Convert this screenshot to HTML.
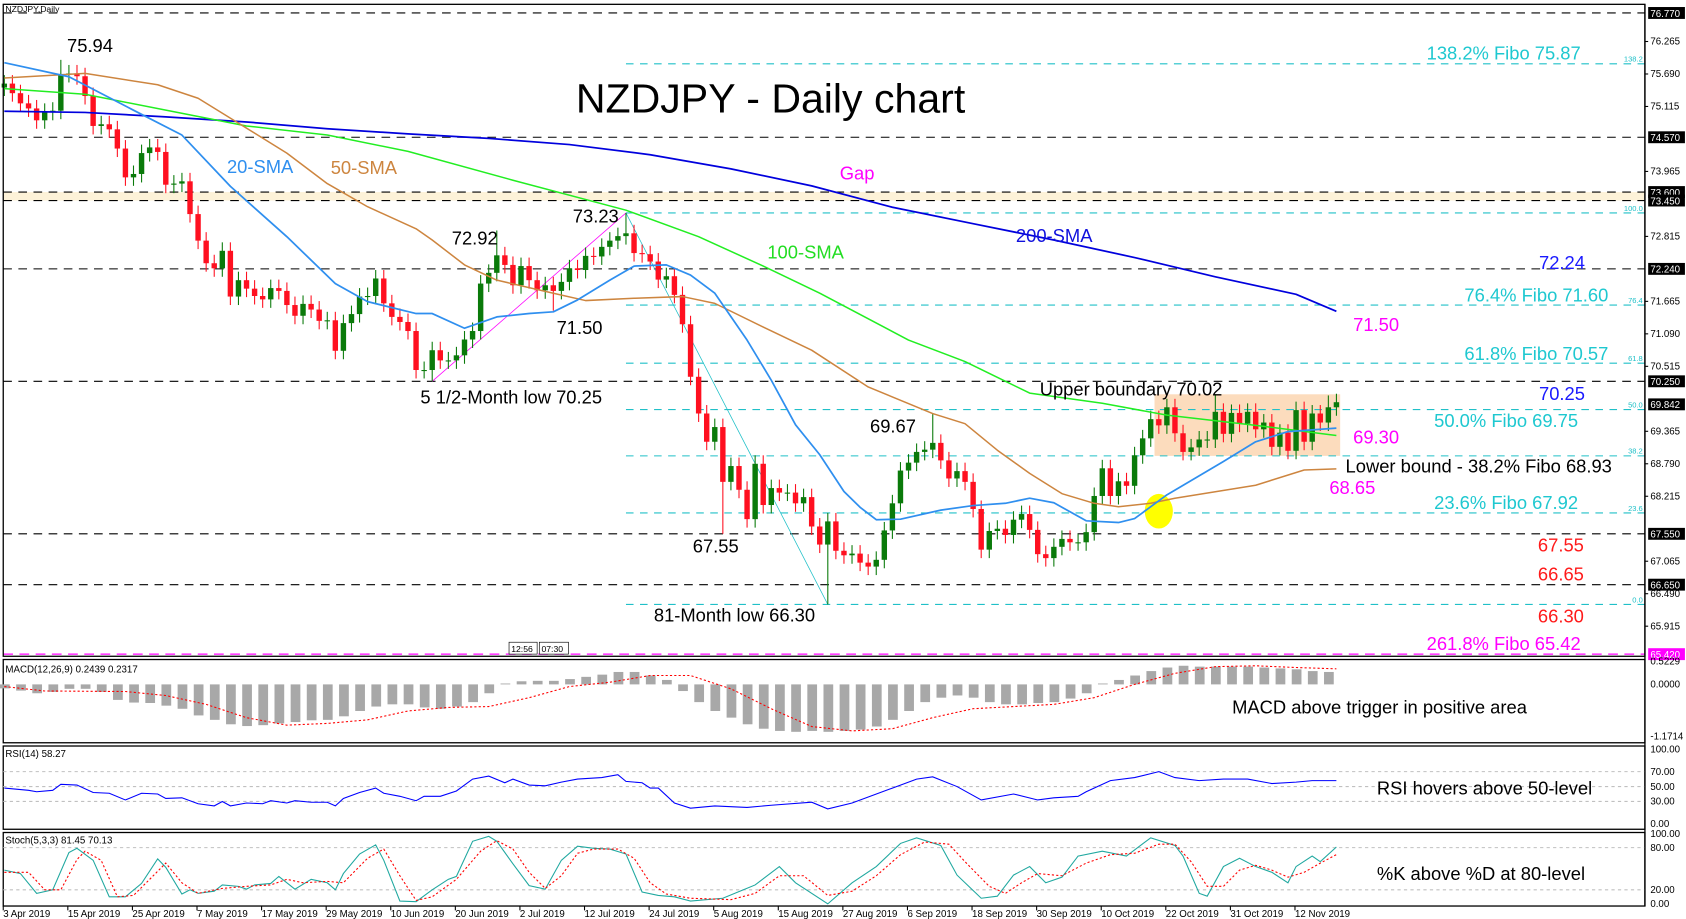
<!DOCTYPE html>
<html><head><meta charset="utf-8"><title>NZDJPY Daily chart</title>
<style>
html,body{margin:0;padding:0;background:#fff;overflow:hidden}
svg{display:block;font-family:"Liberation Sans",sans-serif}
.ax{font-size:9px}
.lb{font-size:17px}
</style></head>
<body>
<svg id="chart" width="1686" height="919" viewBox="0 0 1560 850" preserveAspectRatio="none" xmlns="http://www.w3.org/2000/svg">
<rect x="0" y="0" width="1560" height="850" fill="#fff"/>
<g id="main"></g>
<g id="ind"></g>
<g id="txt">
<text x="5" y="11" font-size="8">NZDJPY,Daily</text>
<text x="713" y="104" font-size="38" text-anchor="middle">NZDJPY - Daily chart</text>
<text class="lb" x="62" y="48">75.94</text>
<text class="lb" x="210" y="160" fill="#2f8fef">20-SMA</text>
<text class="lb" x="306" y="161" fill="#cd853f">50-SMA</text>
<text class="lb" x="777" y="166" fill="#ff00ff">Gap</text>
<text class="lb" x="940" y="224" fill="#1010dd">200-SMA</text>
<text class="lb" x="710" y="239" fill="#22dd22">100-SMA</text>
<text class="lb" x="418" y="226">72.92</text>
<text class="lb" x="530" y="206">73.23</text>
<text class="lb" x="515" y="309">71.50</text>
<text class="lb" x="389" y="373">5 1/2-Month low 70.25</text>
<text class="lb" x="805" y="400">69.67</text>
<text class="lb" x="962" y="366">Upper boundary 70.02</text>
<text class="lb" x="641" y="511">67.55</text>
<text class="lb" x="605" y="575">81-Month low 66.30</text>
<text class="lb" x="1320" y="55" fill="#1ec8d0">138.2% Fibo 75.87</text>
<text class="lb" x="1424" y="249" fill="#1a1aff">72.24</text>
<text class="lb" x="1355" y="279" fill="#1ec8d0">76.4% Fibo 71.60</text>
<text class="lb" x="1252" y="306" fill="#ff00ff">71.50</text>
<text class="lb" x="1355" y="333" fill="#1ec8d0">61.8% Fibo 70.57</text>
<text class="lb" x="1424" y="370" fill="#1a1aff">70.25</text>
<text class="lb" x="1327" y="395" fill="#1ec8d0">50.0% Fibo 69.75</text>
<text class="lb" x="1252" y="410" fill="#ff00ff">69.30</text>
<text class="lb" x="1245" y="437">Lower bound - 38.2% Fibo 68.93</text>
<text class="lb" x="1230" y="457" fill="#ff00ff">68.65</text>
<text class="lb" x="1327" y="471" fill="#1ec8d0">23.6% Fibo 67.92</text>
<text class="lb" x="1423" y="510" fill="#ff1a1a">67.55</text>
<text class="lb" x="1423" y="537" fill="#ff1a1a">66.65</text>
<text class="lb" x="1423" y="576" fill="#ff1a1a">66.30</text>
<text class="lb" x="1320" y="601" fill="#ff00ff">261.8% Fibo 65.42</text>
<text x="5" y="622" font-size="9">MACD(12,26,9) 0.2439 0.2317</text>
<text x="5" y="700" font-size="9">RSI(14) 58.27</text>
<text x="5" y="780" font-size="9">Stoch(5,3,3) 81.45 70.13</text>
<text class="lb" x="1140" y="660">MACD above trigger in positive area</text>
<text class="lb" x="1274" y="735">RSI hovers above 50-level</text>
<text class="lb" x="1274" y="814">%K above %D at 80-level</text>
<rect x="471" y="594" width="26" height="11" fill="#fff" stroke="#000" stroke-width="0.6"/>
<text x="473" y="603" font-size="8">12:56</text>
<rect x="499" y="594" width="27" height="11" fill="#fff" stroke="#000" stroke-width="0.6"/>
<text x="501" y="603" font-size="8">07:30</text>
</g>
</svg>
<script>
// ---- price data (bar index 0..165) ----
const closes=[75.52,75.35,75.17,75.08,74.87,75.02,75.04,75.69,75.70,75.65,
75.30,74.77,74.80,74.71,74.37,73.86,73.92,74.29,74.39,74.31,
73.73,73.75,73.79,73.21,72.74,72.34,72.25,72.56,71.75,72.04,
71.89,71.76,71.70,71.90,71.85,71.60,71.41,71.62,71.52,71.32,
71.33,70.79,71.28,71.44,71.75,71.76,72.07,71.63,71.39,71.30,
71.14,70.45,70.45,70.80,70.62,70.62,70.71,70.99,71.14,71.98,
72.17,72.48,72.31,71.95,72.29,72.04,71.86,71.95,71.85,72.01,
72.25,72.22,72.47,72.46,72.63,72.74,72.82,72.87,72.52,72.50,
72.37,72.05,72.11,71.78,71.26,70.33,69.68,69.18,69.44,68.47,
68.75,68.33,67.81,68.79,68.06,68.36,68.28,68.28,68.09,68.20,
67.68,67.36,67.77,67.25,67.17,67.20,67.04,66.97,67.09,67.61,
68.09,68.67,68.81,69.00,69.04,69.16,68.85,68.53,68.66,68.47,
67.99,67.27,67.60,67.64,67.53,67.80,67.90,67.62,67.19,67.12,
67.32,67.46,67.40,67.40,67.58,68.22,68.71,68.22,68.48,68.40,
68.94,69.24,69.58,69.47,69.79,69.33,69.00,69.08,69.22,69.22,
69.71,69.32,69.69,69.50,69.71,69.40,69.52,69.09,69.34,69.02,
69.74,69.18,69.68,69.52,69.79,69.88];
const firstOpen=75.45;
const highIdx=[7,61,77,115,150,164];
const highVal=[75.94,72.92,73.23,69.67,70.02,70.00];
const lowIdx=[53,68,89,102];
const lowVal=[70.25,71.50,67.55,66.30];
// moving averages sampled at bar indices
const sma20Idx=[0,8,16,22,28,35,41,45,51,53,57,61,65,68,71,75,78,82,85,88,92,95,98,101,104,106,108,111,116,120,124,127,130,134,138,140,144,151,155,159,165];
const sma20=[75.89,75.64,75.05,74.61,73.70,72.81,71.98,71.66,71.45,71.45,71.19,71.39,71.45,71.48,71.69,72.04,72.29,72.31,72.13,71.81,70.98,70.27,69.48,68.95,68.30,68.02,67.80,67.81,67.97,68.05,68.09,68.18,68.10,67.78,67.75,67.82,68.24,68.83,69.18,69.36,69.42];
const sma50Idx=[0,10,19,24,29,35,40,45,51,53,57,61,68,72,78,84,88,94,100,107,115,119,123,127,131,135,138,142,145,155,161,165];
const sma50=[75.62,75.70,75.50,75.26,74.82,74.29,73.75,73.34,72.95,72.75,72.31,72.04,71.81,71.68,71.72,71.75,71.63,71.21,70.80,70.15,69.68,69.50,69.03,68.62,68.26,68.09,68.03,68.09,68.18,68.41,68.68,68.70];
const sma100Idx=[0,10,20,30,40,50,63,77,86,94,101,112,119,127,136,144,155,165];
const sma100=[75.43,75.33,75.05,74.77,74.61,74.32,73.81,73.28,72.81,72.29,71.81,70.98,70.60,70.04,69.86,69.65,69.47,69.29];
const sma200Idx=[0,10,20,30,40,50,60,70,80,90,100,110,120,130,140,150,160,165];
const sma200=[75.03,75.01,74.93,74.84,74.72,74.63,74.55,74.44,74.26,74.01,73.71,73.33,73.04,72.75,72.44,72.10,71.79,71.49];
// horizontal levels
const blackLevels=[76.77,74.57,73.60,73.45,72.24,70.25,67.55,66.65];
const fiboLevels=[75.87,73.23,71.60,70.57,69.75,68.93,67.92,66.30];
const fiboNames=["138.2","100.0","76.4","61.8","50.0","38.2","23.6","0.0"];
const magentaLevel=65.42;
const axisTicks=[76.265,75.690,75.115,73.965,72.815,71.665,71.090,70.515,69.365,68.790,68.215,67.065,66.490,65.915];
const boxTicks=[76.770,74.570,73.600,73.450,72.240,70.250,69.842,67.550,66.650];
const dateLabels=["3 Apr 2019","15 Apr 2019","25 Apr 2019","7 May 2019","17 May 2019","29 May 2019","10 Jun 2019","20 Jun 2019","2 Jul 2019","12 Jul 2019","24 Jul 2019","5 Aug 2019","15 Aug 2019","27 Aug 2019","6 Sep 2019","18 Sep 2019","30 Sep 2019","10 Oct 2019","22 Oct 2019","31 Oct 2019","12 Nov 2019"];
const dateBars=[0,8,16,24,32,40,48,56,64,72,80,88,96,104,112,120,128,136,144,152,160];
// MACD
const histIdx=[0,2,4,6,8,10,12,14,16,18,20,22,24,26,28,30,32,34,36,38,40,42,44,46,48,50,52,54,56,58,60,62,64,66,68,70,72,74,76,78,80,82,84,86,88,90,92,94,96,98,100,102,104,106,108,110,112,114,116,118,120,122,124,126,128,130,132,134,136,138,140,142,144,146,148,150,152,154,156,158,160,162,164];
const histVal=[-0.09,-0.14,-0.2,-0.17,-0.1,-0.1,-0.17,-0.35,-0.41,-0.42,-0.48,-0.55,-0.7,-0.8,-0.9,-0.94,-0.92,-0.88,-0.85,-0.81,-0.8,-0.72,-0.6,-0.5,-0.45,-0.45,-0.52,-0.55,-0.5,-0.4,-0.2,0.02,0.07,0.08,0.08,0.12,0.17,0.22,0.28,0.28,0.2,0.1,-0.15,-0.4,-0.6,-0.75,-0.9,-1.0,-1.05,-1.07,-1.05,-1.07,-1.05,-1.02,-0.95,-0.8,-0.6,-0.4,-0.3,-0.25,-0.3,-0.4,-0.45,-0.45,-0.42,-0.4,-0.32,-0.2,0.02,0.1,0.2,0.3,0.38,0.42,0.4,0.4,0.4,0.4,0.38,0.36,0.34,0.3,0.28];
const sigIdx=[0,5,15,20,25,30,35,40,45,50,55,60,65,70,75,80,85,90,95,100,105,110,115,120,125,130,135,140,145,150,155,160,165];
const sigVal=[-0.05,-0.15,-0.16,-0.25,-0.45,-0.75,-0.92,-0.88,-0.8,-0.6,-0.52,-0.5,-0.3,-0.05,0.05,0.2,0.2,-0.1,-0.55,-0.95,-1.05,-1.0,-0.75,-0.55,-0.5,-0.45,-0.3,0.0,0.25,0.4,0.42,0.38,0.35];
// RSI
const rsiIdx=[0,3,4,6,7,9,11,13,15,17,19,20,22,24,26,27,28,30,32,33,35,36,38,40,41,42,44,46,47,49,51,52,54,56,58,60,62,63,65,67,69,71,74,76,77,79,80,81,83,85,88,92,95,100,102,105,110,113,115,118,121,125,128,130,133,134,137,140,143,145,148,151,154,157,160,162,165];
const rsiVal=[48,45,43,45,53,52,42,41,32,41,40,34,35,27,24,30,24,28,27,31,28,31,29,29,24,34,42,48,41,37,31,37,37,44,60,64,55,60,52,51,56,60,62,66,57,55,48,48,28,21,24,22,25,29,20,28,48,60,63,50,32,40,32,35,37,43,58,62,70,62,58,60,60,54,56,58,58];
// Stochastic
const kIdx=[0,2,4,6,8,9,11,13,15,17,19,20,22,23,24,26,27,29,30,31,33,34,36,38,40,41,42,44,46,47,49,51,53,55,56,58,60,61,63,65,67,69,71,73,75,77,79,81,83,85,89,93,96,98,102,105,108,111,113,116,118,121,123,125,127,129,131,133,136,139,142,145,146,148,149,151,153,155,157,159,160,162,163,165];
const kVal=[48,43,15,20,73,79,62,10,10,29,64,52,14,20,15,18,27,25,21,27,29,39,21,35,30,20,43,71,84,62,4,3,20,35,39,89,96,89,57,26,21,62,82,79,78,71,17,12,10,4,8,27,53,30,0,30,53,86,94,83,41,8,11,41,53,30,38,68,75,68,94,83,68,15,11,53,65,53,45,30,53,68,60,81];
const dIdx=[0,3,5,7,9,10,12,14,16,18,20,22,24,27,30,33,35,37,40,42,45,47,49,51,53,56,59,61,63,65,67,69,71,73,76,78,80,82,85,90,93,96,99,102,105,108,111,114,117,119,122,124,126,128,131,134,137,140,143,145,147,149,151,153,155,157,159,161,163,165];
const dVal=[45,45,20,20,63,75,62,10,12,35,58,30,15,22,25,27,35,30,32,30,65,78,40,5,10,35,75,90,78,45,22,40,72,78,78,65,30,14,8,6,15,40,40,12,18,40,70,88,85,60,25,15,30,43,40,58,70,72,85,85,60,25,25,48,55,48,38,45,58,70];

// ---- scales ----
function X(i){return 4+7.47*i;}
function Y(p){return 12+(76.77-p)*52.25;}
function MY(v){return 633-v*41;}
function RY(v){return 762-v*0.69;}
function SY(v){return 836-v*0.65;}
const NS="http://www.w3.org/2000/svg";
function mk(tag,attrs,parent){const e=document.createElementNS(NS,tag);for(const k in attrs)e.setAttribute(k,attrs[k]);parent.appendChild(e);return e;}
const main=document.getElementById('main');
const ind=document.getElementById('ind');
const L=3,R=1522;

let e=mk('rect',{x:L,y:Y(73.60),width:R-L,height:Y(73.45)-Y(73.60),fill:'#fdf2d8'},main);


e=mk('rect',{x:X(143)-4,y:Y(70.02),width:X(166)-X(143),height:Y(68.93)-Y(70.02),fill:'#fcdcbd'},main);



blackLevels.forEach(function(p){
  const l=mk('line',{x1:L,x2:R,y1:Y(p),y2:Y(p),stroke:'#000','stroke-width':1,'stroke-dasharray':'8,6'},main);
  
  
});
fiboLevels.forEach(function(p,k){
  const l=mk('line',{x1:X(77),x2:R,y1:Y(p),y2:Y(p),stroke:'#20c0c8','stroke-width':1,'stroke-dasharray':'7,6'},main);
  
  
  const t=mk('text',{x:R-2,y:Y(p)-2,'font-size':7,fill:'#20c0c8','text-anchor':'end'},main);
  t.textContent=fiboNames[k];
  
  
});
e=mk('line',{x1:L,x2:R,y1:Y(magentaLevel),y2:Y(magentaLevel),stroke:'#ff00ff','stroke-width':1.2,'stroke-dasharray':'9,6'},main);



e=mk('line',{x1:X(lowIdx[0]),y1:Y(lowVal[0]),x2:X(highIdx[2]),y2:Y(highVal[2]),stroke:'#ff00ff','stroke-width':0.7},main);


e=mk('line',{x1:X(highIdx[2]),y1:Y(highVal[2]),x2:X(lowIdx[3]),y2:Y(lowVal[3]),stroke:'#20c0c8','stroke-width':0.7},main);



e=mk('ellipse',{cx:X(143),cy:Y(67.95),rx:13,ry:16,fill:'#ffff00'},main);



closes.forEach(function(c,i){
  const o=i===0?firstOpen:closes[i-1];
  let hi=Math.max(o,c)+0.15, lo=Math.min(o,c)-0.15;
  const hk=highIdx.indexOf(i); if(hk>=0)hi=highVal[hk];
  const lk=lowIdx.indexOf(i); if(lk>=0)lo=lowVal[lk];
  const col=c>=o?'#0a7a0a':'#ff1020';
  const g=mk('g',{},main);
  
  
  mk('line',{x1:X(i),x2:X(i),y1:Y(hi),y2:Y(lo),stroke:col,'stroke-width':1},g);
  const top=Y(Math.max(o,c)),h=Math.max(1,Y(Math.min(o,c))-top);
  mk('rect',{x:X(i)-2.5,y:top,width:5,height:h,fill:col},g);
});

function maPath(idx,vals,color,w,name){
  let d='';
  vals.forEach(function(v,k){d+=(k?'L':'M')+X(idx[k]).toFixed(1)+' '+Y(v).toFixed(1)+' ';});
  const p=mk('path',{d:d,fill:'none',stroke:color,'stroke-width':w,'stroke-linejoin':'round'},main);
  
  
}
maPath(sma200Idx,sma200,'#0000dd',1.6,'sma-200-line');
maPath(sma100Idx,sma100,'#22ee22',1.4,'sma-100-line');
maPath(sma50Idx,sma50,'#cd853f',1.4,'sma-50-line');
maPath(sma20Idx,sma20,'#2f8fef',1.6,'sma-20-line');

[[4,607],[610,687],[690,767],[770,838]].forEach(function(b){
  const r=mk('rect',{x:L,y:b[0],width:R-L,height:b[1]-b[0],fill:'none',stroke:'#000','stroke-width':1.2},ind);
  
  
});

axisTicks.forEach(function(p){
  mk('line',{x1:R,x2:R+3,y1:Y(p),y2:Y(p),stroke:'#000'},ind);
  const t=mk('text',{x:R+5,y:Y(p)+3,class:'ax',style:'fill:#000'},ind);
  t.textContent=p.toFixed(3);
  
  
});
boxTicks.forEach(function(p){
  const r=mk('rect',{x:R+3,y:Y(p)-5.5,width:34,height:11,fill:'#000'},ind);
  
  
  const t=mk('text',{x:R+5,y:Y(p)+3.5,class:'ax',style:'fill:#fff'},ind);
  t.textContent=p.toFixed(3);
  
  
});
e=mk('rect',{x:R+3,y:Y(magentaLevel)-5.5,width:34,height:11,fill:'#ff00ff'},ind);


e=mk('text',{x:R+5,y:Y(magentaLevel)+3.5,class:'ax',style:'fill:#fff'},ind);
e.textContent=magentaLevel.toFixed(3);



dateLabels.forEach(function(s,k){
  const x=X(dateBars[k])-1;
  mk('line',{x1:x,x2:x,y1:838,y2:842,stroke:'#000'},ind);
  const t=mk('text',{x:x,y:848,class:'ax',style:'fill:#000'},ind);
  t.textContent=s;
  
  
});

histIdx.forEach(function(i,k){
  const v=histVal[k],y0=MY(0),y1=MY(v);
  const r=mk('rect',{x:X(i)-4,y:Math.min(y0,y1),width:9,height:Math.max(0.8,Math.abs(y1-y0)),fill:'#a8a8a8'},ind);
  
  
});
function line(idx,vals,fy,color,w,dash,name){
  let d='';
  idx.forEach(function(i,k){d+=(k?'L':'M')+X(i).toFixed(1)+' '+fy(vals[k]).toFixed(1)+' ';});
  const p=mk('path',{d:d,fill:'none',stroke:color,'stroke-width':w},ind);
  if(dash)p.setAttribute('stroke-dasharray',dash);
  
  
}
line(sigIdx,sigVal,MY,'#ff0000',1,'2,2','macd-signal-line');
[0.5229,0,-1.1714].forEach(function(v){
  const t=mk('text',{x:R+5,y:MY(v)+3,class:'ax',style:'fill:#000'},ind);
  t.textContent=v.toFixed(4);
  
  
});

[70,50,30].forEach(function(v){
  const l=mk('line',{x1:L,x2:R,y1:RY(v),y2:RY(v),stroke:'#c0c0c0','stroke-dasharray':'3,3'},ind);
  
  
});
[100,70,50,30,0].forEach(function(v){
  const t=mk('text',{x:R+5,y:RY(v)+3,class:'ax',style:'fill:#000'},ind);
  t.textContent=v.toFixed(2);
  
  
});
line(rsiIdx,rsiVal,RY,'#0000ff',1,null,'rsi-line');

[80,20].forEach(function(v){
  const l=mk('line',{x1:L,x2:R,y1:SY(v),y2:SY(v),stroke:'#c0c0c0','stroke-dasharray':'3,3'},ind);
  
  
});
[100,80,20,0].forEach(function(v){
  const t=mk('text',{x:R+5,y:SY(v)+3,class:'ax',style:'fill:#000'},ind);
  t.textContent=v.toFixed(2);
  
  
});
line(kIdx,kVal,SY,'#20a8a0',1,null,'stoch-k-line');
line(dIdx,dVal,SY,'#ff0000',1,'2,2','stoch-d-line');

e=mk('line',{x1:R,x2:R,y1:4,y2:838,stroke:'#000','stroke-width':1.2},ind);


</script>
</body></html>
